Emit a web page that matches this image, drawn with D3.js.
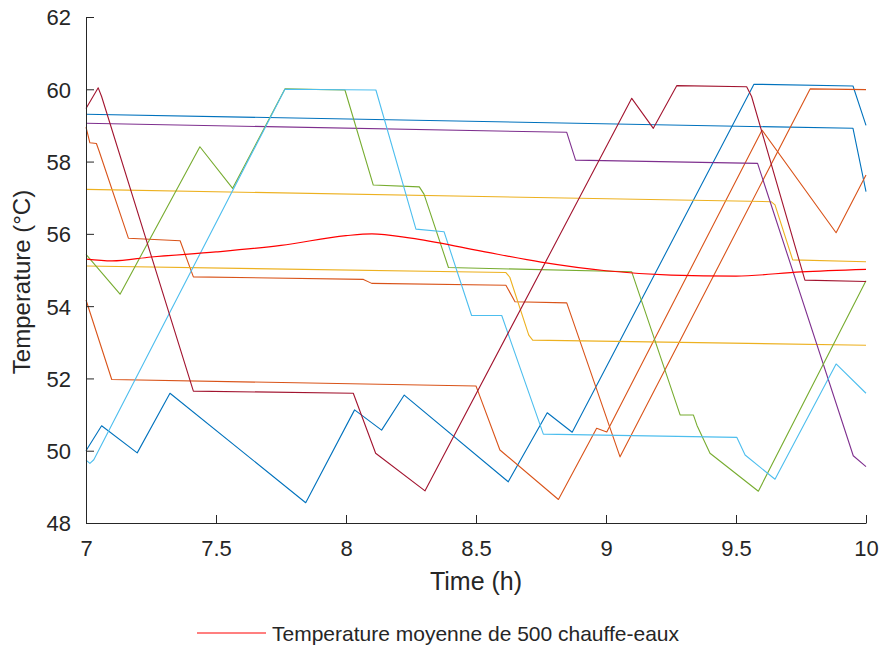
<!DOCTYPE html>
<html>
<head>
<meta charset="utf-8">
<script src="https://cdn.jsdelivr.net/npm/d3@7"></script>
<style>
	body { margin: 0; background: #fff; }
	svg text { font-family: "Liberation Sans", Arial, Helvetica, sans-serif; fill: #262626; }
</style>
</head>
<body>
<div id="vis"></div>
<script>

// individual heaters: [time (h), temperature (°C)]
var heaterBlueFlat = [[7, 59.31], [9.95, 58.92], [10, 57.17]];
var heaterBlueSaw = [[7, 50.0], [7.06, 50.69], [7.197, 49.94], [7.323, 51.59], [7.845, 48.56], [8.033, 51.13], [8.137, 50.57], [8.224, 51.54], [8.624, 49.14], [8.774, 51.05], [8.87, 50.51], [9.569, 60.14], [9.95, 60.09], [10, 59.0]];
var heaterPurple = [[7, 59.06], [8.849, 58.81], [8.883, 58.04], [9.583, 57.95], [9.951, 49.86], [10, 49.56]];
var heaterYellowHigh = [[7, 57.23], [9.635, 56.89], [9.65, 56.8], [9.718, 55.28], [10, 55.23]];
var heaterYellowLow = [[7, 55.11], [8.615, 54.93], [8.63, 54.8], [8.703, 53.2], [8.718, 53.06], [10, 52.92]];
var heaterOrangeA = [[7, 58.95], [7.015, 58.52], [7.04, 58.5], [7.05, 58.3], [7.163, 55.88], [7.362, 55.81], [7.413, 54.81], [8.067, 54.74], [8.099, 54.63], [8.615, 54.58], [8.65, 54.12], [8.849, 54.09], [9.054, 49.83], [9.785, 60.01], [10, 59.99]];
var heaterOrangeB = [[7, 54.17], [7.099, 51.97], [8.5, 51.79], [8.51, 51.6], [8.592, 50.02], [8.817, 48.65], [8.964, 50.62], [9.003, 50.52], [9.6, 58.87], [9.885, 56.03], [10, 57.63]];
var heaterDarkRed = [[7, 59.47], [7.047, 60.04], [7.06, 59.8], [7.413, 51.65], [8.028, 51.59], [8.114, 49.93], [8.304, 48.89], [9.099, 59.75], [9.182, 58.92], [9.272, 60.1], [9.541, 60.07], [9.56, 59.8], [9.765, 54.72], [10, 54.68]];
var heaterGreen = [[7, 55.43], [7.131, 54.33], [7.438, 58.41], [7.564, 57.26], [7.765, 60.01], [7.996, 59.98], [8.105, 57.35], [8.282, 57.3], [8.3, 57.1], [8.394, 55.07], [9.099, 54.95], [9.285, 50.99], [9.336, 50.99], [9.35, 50.7], [9.4, 49.93], [9.586, 48.88], [10, 54.7]];
var heaterCyan = [[7, 49.74], [7.015, 49.65], [7.03, 49.75], [7.765, 60.0], [8.115, 59.98], [8.269, 56.13], [8.377, 56.06], [8.483, 53.74], [8.599, 53.74], [8.759, 50.46], [9.503, 50.37], [9.535, 49.88], [9.65, 49.21], [9.885, 52.4], [10, 51.59]];

// mean of 500 heaters
var meanTime = [7, 7.1, 7.25, 7.5, 7.75, 8.0, 8.1, 8.25, 8.5, 8.75, 9.0, 9.25, 9.5, 9.75, 10];
var meanTemp = [55.3, 55.25, 55.36, 55.5, 55.68, 55.95, 56.0, 55.88, 55.55, 55.22, 54.98, 54.86, 54.83, 54.95, 55.02];

var xTicks = [7, 7.5, 8, 8.5, 9, 9.5, 10];
var yTicks = [48, 50, 52, 54, 56, 58, 60, 62];

var series = [
	{ data: heaterBlueFlat, colour: "#0072BD" },
	{ data: heaterBlueSaw, colour: "#0072BD" },
	{ data: heaterOrangeA, colour: "#D95319" },
	{ data: heaterOrangeB, colour: "#D95319" },
	{ data: heaterYellowHigh, colour: "#EDB120" },
	{ data: heaterYellowLow, colour: "#EDB120" },
	{ data: heaterPurple, colour: "#7E2F8E" },
	{ data: heaterGreen, colour: "#77AC30" },
	{ data: heaterCyan, colour: "#4DBEEE" },
	{ data: heaterDarkRed, colour: "#A2142F" }
];

var w = 881, h = 649;
var plot = { left: 86, right: 866, top: 17, bottom: 523 };

var svg = d3.select("#vis").append("svg")
.attr("width", w)
.attr("height", h);

var x = d3.scaleLinear().domain([7, 10]).range([plot.left, plot.right]);
var y = d3.scaleLinear().domain([48, 62]).range([plot.bottom, plot.top]);

var line = d3.line()
.x(function (d) { return x(d[0]); })
.y(function (d) { return y(d[1]); });

var g = svg.append("g");

g.selectAll(".heater")
.data(series)
.enter()
.append("path")
.attr("class", "heater")
.attr("d", function (d) { return line(d.data); })
.attr("fill", "none")
.attr("stroke", function (d) { return d.colour; })
.attr("stroke-width", 1.1)
.attr("stroke-linejoin", "round");

var meanLine = d3.line()
.curve(d3.curveMonotoneX)
.x(function (d, i) { return x(meanTime[i]); })
.y(function (d) { return y(d); });

g.append("path")
.attr("d", meanLine(meanTemp))
.attr("fill", "none")
.attr("stroke", "#FF0000")
.attr("stroke-width", 1.2);

// axes, MATLAB style: ticks inside, no box
var xAxis = d3.axisBottom(x).tickValues(xTicks).tickSizeInner(-8).tickSizeOuter(0).tickPadding(17)
.tickFormat(function (d) { return String(d); });
var yAxis = d3.axisLeft(y).tickValues(yTicks).tickSizeInner(-8).tickSizeOuter(0).tickPadding(15)
.tickFormat(function (d) { return String(d); });

var gx = svg.append("g")
.attr("transform", "translate(0," + plot.bottom + ")")
.call(xAxis);
var gy = svg.append("g")
.attr("transform", "translate(" + plot.left + ",0)")
.call(yAxis);

[gx, gy].forEach(function (a) {
	a.select(".domain").attr("stroke", "#262626").attr("stroke-width", 1);
	a.selectAll(".tick line").attr("stroke", "#262626").attr("stroke-width", 1);
	a.selectAll(".tick text").attr("font-size", 22).attr("fill", "#262626");
});
gx.selectAll(".tick text").attr("dy", "0.71em");
gy.selectAll(".tick text").attr("dy", "0.36em");

svg.append("text")
.attr("x", (plot.left + plot.right) / 2)
.attr("y", 590)
.attr("text-anchor", "middle")
.attr("font-size", 25)
.text("Time (h)");

svg.append("text")
.attr("transform", "translate(30,282) rotate(-90)")
.attr("text-anchor", "middle")
.attr("font-size", 24)
.text("Temperature (°C)");

// legend
var key = svg.append("g").attr("transform", "translate(197,633)");
key.append("line")
.attr("x1", 0).attr("x2", 69)
.attr("y1", 0).attr("y2", 0)
.attr("stroke", "#FF0000")
.attr("stroke-width", 1.2);
key.append("text")
.attr("x", 75)
.attr("y", 8)
.attr("font-size", 21)
.text("Temperature moyenne de 500 chauffe-eaux");

</script>
</body>
</html>
